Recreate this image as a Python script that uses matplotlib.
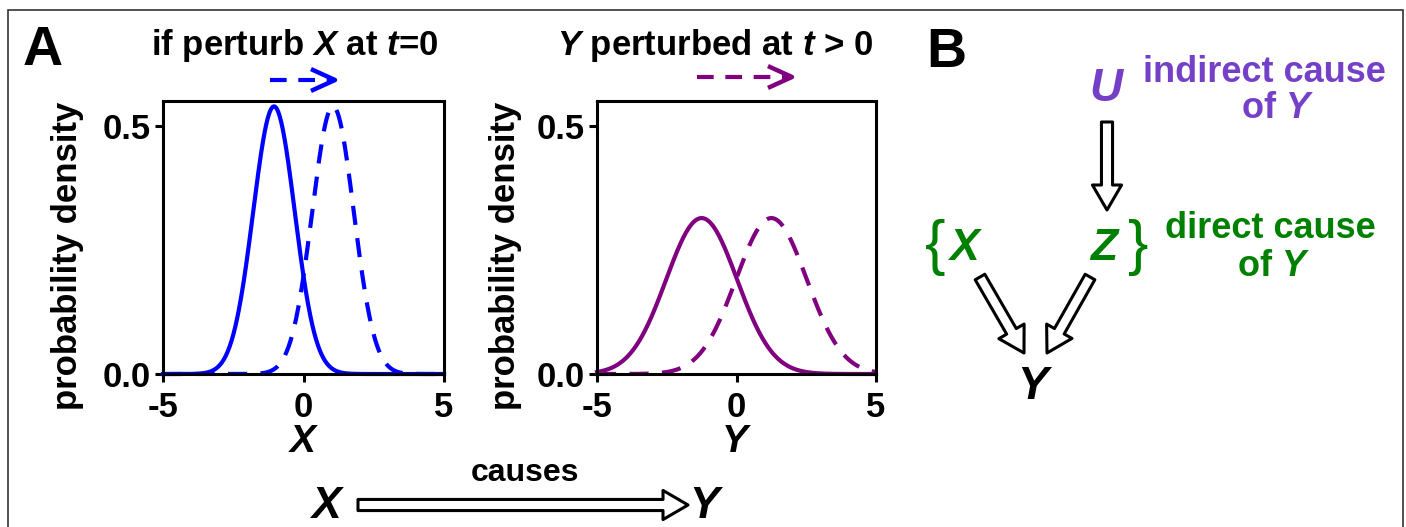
import numpy as np
import matplotlib.pyplot as plt
from matplotlib.patches import FancyArrowPatch, Rectangle, ArrowStyle
from matplotlib.lines import Line2D

# normal densities (mean, sd)
x_lo, x_hi = -5, 5
x_means = [-1.05, 1.05]   # before / after perturbing X
x_sd = 0.74
y_means = [-1.25, 1.25]   # Y before / after
y_sd = 1.27

xticks = [-5, 0, 5]
xtick_labels = ['-5', '0', '5']
yticks = [0, 0.5]
ytick_labels = ['0.0', '0.5']
ymax = 0.55

blue = '#0000ff'
purple = '#800080'
violet = '#7540c8'
green = '#008000'

W, H = 1406, 527

plt.rcParams['font.family'] = ['Liberation Sans', 'DejaVu Sans']
plt.rcParams['font.weight'] = 'bold'
plt.rcParams['axes.labelweight'] = 'bold'
plt.rcParams['mathtext.fontset'] = 'custom'
plt.rcParams['mathtext.it'] = 'Liberation Sans:italic:bold'
plt.rcParams['mathtext.rm'] = 'Liberation Sans:bold'
plt.rcParams['mathtext.bf'] = 'Liberation Sans:bold'


def fx(px):
    return px / W


def fy(py):
    return 1 - py / H


def pdf(x, m, s):
    return np.exp(-0.5 * ((x - m) / s) ** 2) / (s * np.sqrt(2 * np.pi))


fig = plt.figure(figsize=(W / 100, H / 100), dpi=100)

# outer frame
fig.patches.append(Rectangle((fx(8), fy(560)), fx(1403) - fx(8), fy(10) - fy(560),
                             transform=fig.transFigure, fill=False,
                             ec='#333333', lw=1.2))

xs = np.linspace(x_lo, x_hi, 600)
dash = (0, (4.6, 3.2))


def style_ax(ax, name, lab_x):
    ax.set_xlim(x_lo, x_hi)
    ax.set_ylim(0, ymax)
    ax.set_xticks(xticks)
    ax.set_xticklabels(xtick_labels)
    ax.set_yticks(yticks)
    ax.set_yticklabels(ytick_labels)
    for sp in ax.spines.values():
        sp.set_linewidth(2.2)
    ax.tick_params(direction='out', length=6, width=2.2, labelsize=25, pad=3)
    ax.tick_params(axis='x', pad=6.5)
    ax.set_ylabel('probability density', fontsize=25)
    ax.yaxis.set_label_coords(lab_x, 0.434)
    ax.set_xlabel(name, fontsize=28, labelpad=0)


ax1 = fig.add_axes([fx(163), fy(374), (444 - 163) / W, (374 - 101) / H])
ax1.plot(xs, pdf(xs, x_means[0], x_sd), color=blue, lw=3, clip_on=False)
ax1.plot(xs, pdf(xs, x_means[1], x_sd), color=blue, lw=3, ls=dash, clip_on=False)
style_ax(ax1, '$X$', -0.282)

ax2 = fig.add_axes([fx(597), fy(374), (876 - 597) / W, (374 - 101) / H])
ax2.plot(xs, pdf(xs, y_means[0], y_sd), color=purple, lw=3, clip_on=False)
ax2.plot(xs, pdf(xs, y_means[1], y_sd), color=purple, lw=3, ls=dash, clip_on=False)
style_ax(ax2, '$Y$', -0.27)

# titles
fig.text(fx(295), fy(55), 'if perturb $X$ at $t$=0', fontsize=25, ha='center', va='baseline')
fig.text(fx(715), fy(55), '$Y$ perturbed at $t$ > 0', fontsize=25, ha='center', va='baseline')

# panel letters
fig.text(fx(43), fy(65), 'A', fontsize=40, ha='center', va='baseline')
fig.text(fx(946), fy(67), 'B', fontsize=40, ha='center', va='baseline')


def dashed_arrow(x0, x1, y, color):
    fig.add_artist(Line2D([fx(x0), fx(x1 - 4)], [fy(y), fy(y)], transform=fig.transFigure,
                          color=color, lw=3, dashes=(4, 2.8)))
    fig.add_artist(Line2D([fx(x1 - 22), fx(x1), fx(x1 - 22)], [fy(y - 10), fy(y), fy(y + 10)],
                          transform=fig.transFigure, color=color, lw=3.2))


dashed_arrow(270, 335, 80, blue)
dashed_arrow(697, 792, 77, purple)


def hollow_arrow(p0, p1):
    st = ArrowStyle.Simple(head_length=18, head_width=21, tail_width=8)
    fig.patches.append(FancyArrowPatch((fx(p0[0]), fy(p0[1])), (fx(p1[0]), fy(p1[1])),
                                       transform=fig.transFigure, arrowstyle=st,
                                       mutation_scale=1, fc='white', ec='black', lw=2.2,
                                       shrinkA=0, shrinkB=0))


# X causes Y
fig.text(fx(525), fy(473), 'causes', fontsize=23, ha='center', va='center')
fig.text(fx(327), fy(506), '$X$', fontsize=32, ha='center', va='center')
fig.text(fx(707), fy(506), '$Y$', fontsize=32, ha='center', va='center')
hollow_arrow((358, 505), (688, 505))

# panel B graph
fig.text(fx(1107), fy(89), '$U$', fontsize=33, color=violet, ha='center', va='center')
fig.text(fx(1264), fy(72), 'indirect cause', fontsize=26, color=violet, ha='center', va='center')
fig.text(fx(1277), fy(108), 'of $Y$', fontsize=26, color=violet, ha='center', va='center')
hollow_arrow((1107, 122), (1107, 210))

fig.text(fx(935), fy(247), '{', fontsize=44, fontweight='normal', color=green, ha='center', va='center')
fig.text(fx(965), fy(248), '$X$', fontsize=32, color=green, ha='center', va='center')
fig.text(fx(1105), fy(248), '$Z$', fontsize=32, color=green, ha='center', va='center')
fig.text(fx(1138), fy(247), '}', fontsize=44, fontweight='normal', color=green, ha='center', va='center')
fig.text(fx(1270), fy(229), 'direct cause', fontsize=26, color=green, ha='center', va='center')
fig.text(fx(1273), fy(266), 'of $Y$', fontsize=26, color=green, ha='center', va='center')

hollow_arrow((980, 277), (1024, 353))
hollow_arrow((1090, 277), (1047, 353))
fig.text(fx(1035), fy(387), '$Y$', fontsize=33, ha='center', va='center')

fig.savefig('out.png', dpi=100)
